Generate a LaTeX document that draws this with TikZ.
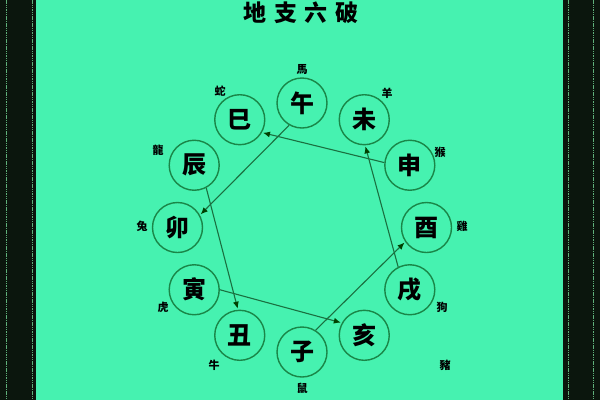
\documentclass[tikz,border=0pt]{standalone}
\usepackage{fontspec}
\newfontfamily\cjk{Noto Sans CJK SC}
\usetikzlibrary{arrows.meta}
\definecolor{bgmint}{HTML}{46F2B0}
\definecolor{ringgreen}{HTML}{1A8648}
\definecolor{linegreen}{HTML}{1A7040}
\definecolor{darkband}{HTML}{0B160D}
\definecolor{bandline}{HTML}{5FB07A}
\tikzset{
  branch/.style={circle, draw=ringgreen, line width=1.4pt, minimum size=50pt, inner sep=0pt, font=\cjk\bfseries\fontsize{24}{24}\selectfont},
  animal/.style={inner sep=0pt, font=\cjk\bfseries\fontsize{11}{11}\selectfont},
  clash/.style={draw=linegreen, line width=1.1pt, -{Latex[length=7pt,width=6pt,color=black!75!green]}, shorten >=1pt},
  titletext/.style={inner sep=0pt, font=\cjk\bfseries\fontsize{23}{23}\selectfont}
}
\begin{document}
\begin{tikzpicture}[x=1pt,y=-1pt]
\useasboundingbox (0,0) rectangle (600,400);
\fill[bgmint] (0,0) rectangle (600,400);
% side bands
\fill[darkband] (0,0) rectangle (36,400);
\fill[darkband] (563,0) rectangle (600,400);
\draw[bandline, line width=0.8pt, dash pattern=on 1.5pt off 0.8pt] (6,0) -- (6,400);
\draw[bandline, line width=0.8pt, dash pattern=on 1.5pt off 0.8pt] (32,0) -- (32,400);
\draw[bandline, line width=0.8pt, dash pattern=on 1.5pt off 0.8pt] (568,0) -- (568,400);
\draw[bandline, line width=0.8pt, dash pattern=on 1.5pt off 0.8pt] (593,0) -- (593,400);
% title
\node[titletext] (title) at (301,13) {地\hspace{7.5pt}支\hspace{7.5pt}六\hspace{7.5pt}破};
% branches
\node[branch] (wu)   at (302,103)      {午};
\node[branch] (si)   at (239.75,119.7) {巳};
\node[branch] (chen) at (194.2,165.25) {辰};
\node[branch] (mao)  at (177.5,227.5)  {卯};
\node[branch] (yin)  at (194.2,289.75) {寅};
\node[branch] (chou) at (239.75,335.3) {丑};
\node[branch] (zi)   at (302,352)      {子};
\node[branch] (hai)  at (364.25,335.3) {亥};
\node[branch] (xu)   at (409.8,289.75) {戌};
\node[branch] (you)  at (426.5,227.5)  {酉};
\node[branch] (shen) at (409.8,165.25) {申};
\node[branch] (wei)  at (364.25,119.7) {未};
% animals
\node[animal] (ma)   at (302,70)  {馬};
\node[animal] (she)  at (220,91)  {蛇};
\node[animal] (yang) at (387,93)  {羊};
\node[animal] (long) at (158,150) {龍};
\node[animal] (hou)  at (440,152) {猴};
\node[animal] (tu)   at (142,226) {兔};
\node[animal] (ji)   at (462,226) {雞};
\node[animal] (hu)   at (163,307) {虎};
\node[animal] (gou)  at (442,307) {狗};
\node[animal] (niu)  at (214,365) {牛};
\node[animal] (zhu)  at (445,365) {豬};
\node[animal] (shu)  at (302,388) {鼠};
% six breaks
\draw[clash] (wu.240) -- (mao.29);
\draw[clash] (shen.174) -- (si.-30);
\draw[clash] (xu.117) -- (wei.-88);
\draw[clash] (zi.58) -- (you.214);
\draw[clash] (chen.-62) -- (chou.94);
\draw[clash] (yin.0) -- (hai.151);
\end{tikzpicture}
\end{document}
